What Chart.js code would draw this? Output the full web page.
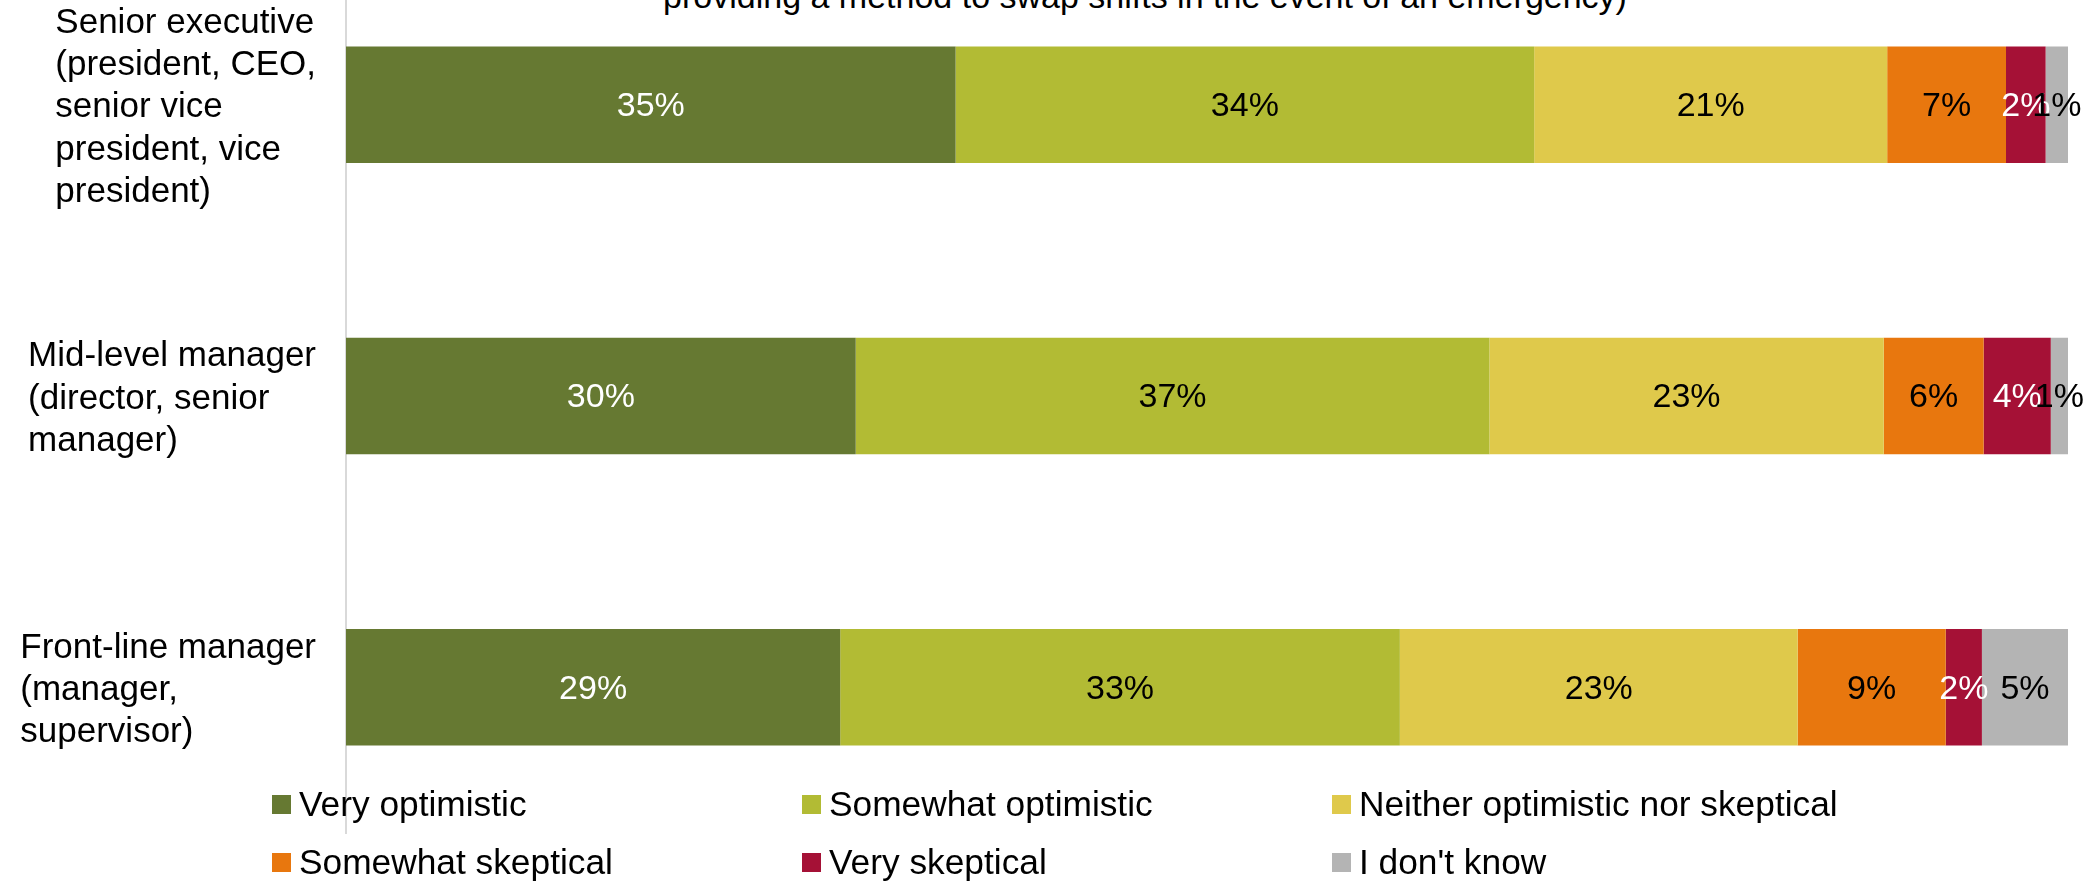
<!DOCTYPE html>
<html lang="en">
<head>
    <meta charset="UTF-8">
    <title>Optimism by management level</title>
    <script src="https://cdn.jsdelivr.net/npm/chart.js"></script>
    <style>
        html, body {
            margin: 0;
            padding: 0;
            width: 2099px;
            height: 881px;
            overflow: hidden;
            background: #ffffff;
            font-family: 'Liberation Sans', Arial, sans-serif;
            color: #000000;
        }
        .title-line {
            position: absolute;
            left: 0;
            top: -24px;
            width: 2290px;
            text-align: center;
            font-size: 34px;
            line-height: 40px;
            white-space: nowrap;
        }
        .chart-box {
            position: absolute;
            left: 0;
            top: -41px;
            width: 2099px;
            height: 922px;
        }
        .legend {
            position: absolute;
            left: 272px;
            top: 784px;
            display: grid;
            grid-template-columns: 530px 530px 530px;
            grid-auto-rows: 58px;
            font-size: 35.3px;
        }
        .legend-item {
            display: flex;
            align-items: center;
            height: 40px;
            line-height: 40px;
            white-space: nowrap;
        }
        .legend-swatch {
            width: 19px;
            height: 19px;
            margin-right: 8px;
            flex: none;
        }
    </style>
</head>
<body>

    <div class="title-line">providing a method to swap shifts in the event of an emergency)</div>

    <div class="chart-box">
        <canvas id="levelChart" width="2099" height="922"></canvas>
    </div>

    <div class="legend" id="legend"></div>

    <script>
        // categories (one per line of the axis label)
        const categories = [
            ['Senior executive', '(president, CEO,', 'senior vice', 'president, vice', 'president)'],
            ['Mid-level manager', '(director, senior', 'manager)'],
            ['Front-line manager', '(manager,', 'supervisor)']
        ];

        const seriesNames = [
            'Very optimistic',
            'Somewhat optimistic',
            'Neither optimistic nor skeptical',
            'Somewhat skeptical',
            'Very skeptical',
            "I don't know"
        ];

        // percentages per series, in category order
        const veryOptimistic      = [35.4, 29.6, 28.7];
        const somewhatOptimistic  = [33.6, 36.8, 32.5];
        const neither             = [20.5, 22.9, 23.1];
        const somewhatSkeptical   = [6.9, 5.8, 8.6];
        const verySkeptical       = [2.3, 3.9, 2.1];
        const dontKnow            = [1.3, 1.0, 5.0];

        const seriesValues = [veryOptimistic, somewhatOptimistic, neither, somewhatSkeptical, verySkeptical, dontKnow];

        const seriesColors = ['#667932', '#B2BB34', '#DFC94B', '#E8770E', '#A51136', '#B4B4B4'];
        const labelColors  = ['#ffffff', '#000000', '#000000', '#000000', '#ffffff', '#000000'];

        const FONT = "'Liberation Sans', Arial, sans-serif";

        // legend
        const legendEl = document.getElementById('legend');
        seriesNames.forEach((name, i) => {
            legendEl.innerHTML += `
                <div class="legend-item">
                    <span class="legend-swatch" style="background:${seriesColors[i]}"></span>
                    <span>${name}</span>
                </div>`;
        });

        // percentage labels in the middle of each segment
        const segmentLabels = {
            id: 'segmentLabels',
            afterDatasetsDraw(chart) {
                const ctx = chart.ctx;
                ctx.save();
                ctx.font = `34px ${FONT}`;
                ctx.textAlign = 'center';
                ctx.textBaseline = 'middle';
                chart.data.datasets.forEach((ds, i) => {
                    const meta = chart.getDatasetMeta(i);
                    meta.data.forEach((bar, j) => {
                        const cx = (bar.x + bar.base) / 2;
                        ctx.fillStyle = labelColors[i];
                        ctx.fillText(Math.round(ds.data[j]) + '%', cx, bar.y + 2);
                    });
                });
                ctx.restore();
            }
        };

        // wrapped category labels: lines left aligned, block right aligned
        const categoryLabels = {
            id: 'categoryLabels',
            afterDraw(chart) {
                const ctx = chart.ctx;
                const yScale = chart.scales.y;
                const rightEdge = 316;
                const lineH = 42.3;
                ctx.save();
                ctx.font = `35px ${FONT}`;
                ctx.fillStyle = '#000000';
                ctx.textAlign = 'left';
                ctx.textBaseline = 'middle';
                categories.forEach((lines, i) => {
                    const cy = yScale.getPixelForValue(i) + 3;
                    const maxW = Math.max(...lines.map(l => ctx.measureText(l).width));
                    const x = rightEdge - maxW;
                    const startY = cy - (lines.length - 1) * lineH / 2;
                    lines.forEach((line, k) => {
                        ctx.fillText(line, x, startY + k * lineH);
                    });
                });
                ctx.restore();
            }
        };

        const ctx = document.getElementById('levelChart').getContext('2d');
        new Chart(ctx, {
            type: 'bar',
            data: {
                labels: categories.map(c => c.join(' ')),
                datasets: seriesNames.map((name, i) => ({
                    label: name,
                    data: seriesValues[i],
                    backgroundColor: seriesColors[i],
                    borderWidth: 0,
                    categoryPercentage: 1,
                    barPercentage: 0.4
                }))
            },
            options: {
                indexAxis: 'y',
                responsive: false,
                animation: false,
                devicePixelRatio: 1,
                layout: {
                    padding: { left: 346, right: 31, top: 0, bottom: 48 }
                },
                scales: {
                    x: {
                        stacked: true,
                        min: 0,
                        max: 100,
                        display: false
                    },
                    y: {
                        stacked: true,
                        ticks: { display: false },
                        grid: { display: false, drawTicks: false },
                        border: { display: true, color: '#D9D9D9', width: 2 },
                        afterFit: (scale) => { scale.width = 0; }
                    }
                },
                plugins: {
                    legend: { display: false },
                    tooltip: { enabled: false }
                }
            },
            plugins: [segmentLabels, categoryLabels]
        });
    </script>

</body>
</html>
